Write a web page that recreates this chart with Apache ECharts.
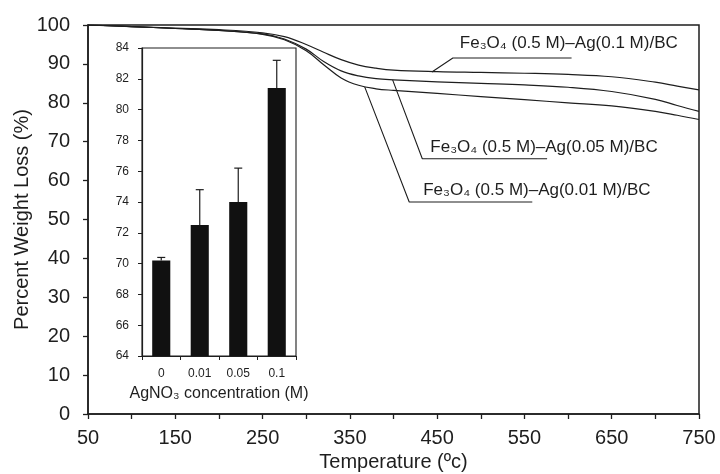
<!DOCTYPE html>
<html><head><meta charset="utf-8">
<script src="https://cdn.jsdelivr.net/npm/echarts@6/dist/echarts.min.js"></script>
<style>html,body{margin:0;padding:0;background:#fff}#c{width:720px;height:474px}</style>
</head><body><div id="c"></div>
<script>
// ---- main TGA curves ----
const temperature = [50, 100, 150, 200, 250, 275, 300, 320, 340, 360, 380, 400, 450, 500, 550, 600, 650, 700, 725, 750];
const lossAg01  = [100, 99.6, 99.2, 98.8, 98.0, 97.0, 95.0, 93.0, 91.1, 89.7, 88.9, 88.4, 88.0, 87.8, 87.6, 87.3, 86.7, 85.3, 84.3, 83.3];
const lossAg005 = [100, 99.6, 99.1, 98.6, 97.7, 96.4, 93.8, 90.6, 88.2, 86.9, 86.2, 85.9, 85.4, 85.0, 84.6, 84.0, 82.9, 80.9, 79.3, 77.8];
const lossAg001 = [100, 99.6, 99.1, 98.6, 97.6, 96.2, 93.4, 89.8, 86.4, 84.5, 83.6, 83.2, 82.4, 81.6, 80.8, 80.0, 79.2, 77.8, 76.8, 75.7];
const seriesNames = ['Fe\u2083O\u2084 (0.5 M)\u2013Ag(0.1 M)/BC', 'Fe\u2083O\u2084 (0.5 M)\u2013Ag(0.05 M)/BC', 'Fe\u2083O\u2084 (0.5 M)\u2013Ag(0.01 M)/BC'];

// ---- inset bar chart ----
const insetCategories = ['0', '0.01', '0.05', '0.1'];
const insetValues = [70.2, 72.5, 74.0, 81.4];
const insetErrorTop = [70.4, 74.8, 76.2, 83.2];

// annotation leader lines in data space: [curve point, elbow, end]
const leaders = [
  [[444, 87.9], [468, 91.5], [604, 91.5]],
  [[399, 85.9], [433, 65.6], [576, 65.6]],
  [[367, 84.1], [418, 54.5], [559, 54.5]]
];

const FONT = 'Liberation Sans, Arial, DejaVu Sans, sans-serif';
const INK = '#1e1e1e';

const chart = echarts.init(document.getElementById('c'), null, {renderer: 'canvas'});

const zip = (xs, ys) => xs.map((x, i) => [x, ys[i]]);

const curveSeries = [lossAg01, lossAg005, lossAg001].map((arr, i) => ({
  name: seriesNames[i], type: 'line', xAxisIndex: 0, yAxisIndex: 0,
  data: zip(temperature, arr), showSymbol: false, symbol: 'none',
  smooth: 0.4,
  lineStyle: {color: INK, width: 1.2}, silent: true, z: 2
}));

const leaderSeries = leaders.map(pts => ({
  type: 'line', xAxisIndex: 0, yAxisIndex: 0, data: pts, symbol: 'none',
  lineStyle: {color: INK, width: 1.1}, silent: true, z: 3
}));

const option = {
  backgroundColor: '#fff',
  animation: false,
  textStyle: {fontFamily: FONT},
  grid: [
    {left: 88, top: 25, right: 21, bottom: 60, show: true, borderColor: INK, borderWidth: 1.5, outerBoundsMode: 'none', containLabel: false},
    {left: 142, top: 48, width: 154, height: 308, show: true, backgroundColor: '#fff', borderColor: INK, borderWidth: 1.1, outerBoundsMode: 'none', containLabel: false, z: 5}
  ],
  xAxis: [
    {
      type: 'value', gridIndex: 0, min: 50, max: 750, interval: 50,
      name: 'Temperature (\u00bac)', nameLocation: 'middle', nameGap: 38, nameMoveOverlap: false,
      nameTextStyle: {fontSize: 20, color: INK, fontFamily: FONT},
      axisLine: {show: true, lineStyle: {color: INK, width: 1.5}},
      axisTick: {show: true, inside: false, length: 5, lineStyle: {color: INK, width: 1.3}},
      axisLabel: {fontSize: 20, color: INK, margin: 14, fontFamily: FONT,
        formatter: v => ((v - 50) % 100 === 0 ? String(v) : '')},
      splitLine: {show: false}
    },
    {
      type: 'category', gridIndex: 1, data: insetCategories,
      name: 'AgNO\u2083 concentration (M)', nameLocation: 'middle', nameGap: 30, nameMoveOverlap: false,
      nameTextStyle: {fontSize: 16, color: INK, fontFamily: FONT},
      axisLine: {show: true, lineStyle: {color: INK, width: 1.2}},
      axisTick: {show: true, alignWithLabel: false, length: 4, lineStyle: {color: INK}},
      axisLabel: {fontSize: 12, color: INK, margin: 12, fontFamily: FONT},
      z: 6
    }
  ],
  yAxis: [
    {
      type: 'value', gridIndex: 0, min: 0, max: 100, interval: 10,
      name: 'Percent Weight Loss (%)', nameLocation: 'middle', nameGap: 56, nameMoveOverlap: false,
      nameTextStyle: {fontSize: 20, color: INK, fontFamily: FONT},
      axisLine: {show: true, lineStyle: {color: INK, width: 1.5}},
      axisTick: {show: true, length: 5, lineStyle: {color: INK, width: 1.3}},
      axisLabel: {fontSize: 20, color: INK, margin: 18, fontFamily: FONT},
      splitLine: {show: false}
    },
    {
      type: 'value', gridIndex: 1, min: 64, max: 84, interval: 2,
      axisLine: {show: true, lineStyle: {color: INK, width: 1.2}},
      axisTick: {show: true, length: 4, lineStyle: {color: INK}},
      axisLabel: {fontSize: 12, color: INK, margin: 13, fontFamily: FONT},
      splitLine: {show: false}, z: 6
    }
  ],
  series: [
    ...curveSeries,
    ...leaderSeries,
    {
      type: 'bar', xAxisIndex: 1, yAxisIndex: 1, data: insetValues,
      barWidth: '47%', itemStyle: {color: '#111'}, silent: true, z: 7
    },
    {
      type: 'custom', xAxisIndex: 1, yAxisIndex: 1, silent: true, z: 8,
      data: insetCategories.map((c, i) => [i, insetValues[i], insetErrorTop[i]]),
      renderItem: (params, api) => {
        const base = api.coord([api.value(0), api.value(1)]);
        const top = api.coord([api.value(0), api.value(2)]);
        const h = 4;
        return {type: 'group', children: [
          {type: 'line', shape: {x1: base[0], y1: base[1], x2: top[0], y2: top[1]}, style: {stroke: INK, lineWidth: 1.2}},
          {type: 'line', shape: {x1: top[0] - h, y1: top[1], x2: top[0] + h, y2: top[1]}, style: {stroke: INK, lineWidth: 1.2}}
        ]};
      }
    }
  ]
};

chart.setOption(option);

// annotation texts placed relative to the leader elbows (data space -> pixels)
const textOffsets = [[7, -15], [8, -12], [14, -12]];
const texts = leaders.map((pts, i) => {
  const p = chart.convertToPixel({gridIndex: 0}, pts[1]);
  return {
    type: 'text', x: p[0] + textOffsets[i][0], y: p[1] + textOffsets[i][1], z: 10,
    style: {text: seriesNames[i], fontSize: 17, fontFamily: FONT, fill: INK, align: 'left', verticalAlign: 'middle'}
  };
});
chart.setOption({graphic: texts});
</script>
</body></html>
